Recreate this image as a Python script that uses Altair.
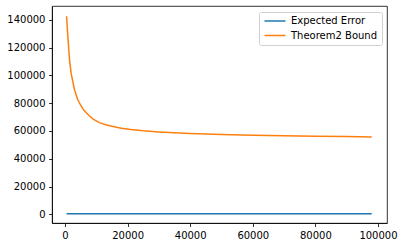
import altair as alt
import pandas as pd

x_vals = [500, 1000, 1500, 2000, 3000, 4000, 5000, 6000, 7500, 9000, 11000, 13000,
          15000, 18000, 21000, 25000, 30000, 35000, 40000, 50000, 60000, 70000,
          80000, 90000, 98000]
bound_vals = [142500, 125000, 110000, 101000, 90000, 83000, 78500, 75000, 71500,
              68500, 66000, 64500, 63300, 62000, 61000, 60100, 59300, 58700, 58200,
              57400, 56900, 56500, 56200, 55900, 55700]
error_vals = [380, 370, 360, 355, 350, 345, 340, 338, 335, 333, 330, 328, 326, 324,
              322, 320, 318, 316, 315, 313, 312, 311, 310, 309, 308]
series_names = ["Expected Error", "Theorem2 Bound"]
x_ticks = [0, 20000, 40000, 60000, 80000, 100000]
y_ticks = [0, 20000, 40000, 60000, 80000, 100000, 120000, 140000]

rows = []
for xv, ev in zip(x_vals, error_vals):
    rows.append({"n": xv, "value": ev, "series": series_names[0]})
for xv, bv in zip(x_vals, bound_vals):
    rows.append({"n": xv, "value": bv, "series": series_names[1]})
df = pd.DataFrame(rows)

font = "DejaVu Sans"

chart = alt.Chart(df).mark_line(strokeWidth=1.5).encode(
    x=alt.X("n:Q", scale=alt.Scale(domain=[-4150, 102880], nice=False, zero=False),
            axis=alt.Axis(values=x_ticks, format="d", title=None, grid=False)),
    y=alt.Y("value:Q", scale=alt.Scale(domain=[-6260, 149900], nice=False, zero=False),
            axis=alt.Axis(values=y_ticks, format="d", title=None, grid=False)),
    color=alt.Color("series:N",
                    scale=alt.Scale(domain=series_names, range=["#1f77b4", "#ff7f0e"]),
                    legend=alt.Legend(title=None, orient="none", legendX=207, legendY=6,
                                      symbolType="M-1,0L5,0", symbolSize=49,
                                      symbolStrokeWidth=1.5, labelOffset=18,
                                      labelFont=font, labelFontSize=10,
                                      labelColor="#000000", rowPadding=4.5,
                                      padding=4, strokeColor="#d0d0d0",
                                      fillColor="rgba(255,255,255,0.8)",
                                      cornerRadius=2)),
).properties(
    width=335, height=217,
    background="white",
    autosize=alt.AutoSizeParams(type="none"),
    padding={"left": 52, "top": 6, "right": 17, "bottom": 25},
).configure_view(
    stroke="#000000", strokeWidth=0.8
).configure_axis(
    domainColor="#000000", domainWidth=0.8, tickColor="#000000", tickWidth=0.8,
    tickSize=3.5, labelPadding=3.5, labelFont=font, labelFontSize=10,
    labelColor="#000000"
)

chart.save("out.html", embed_options={"renderer": "svg", "actions": False})
